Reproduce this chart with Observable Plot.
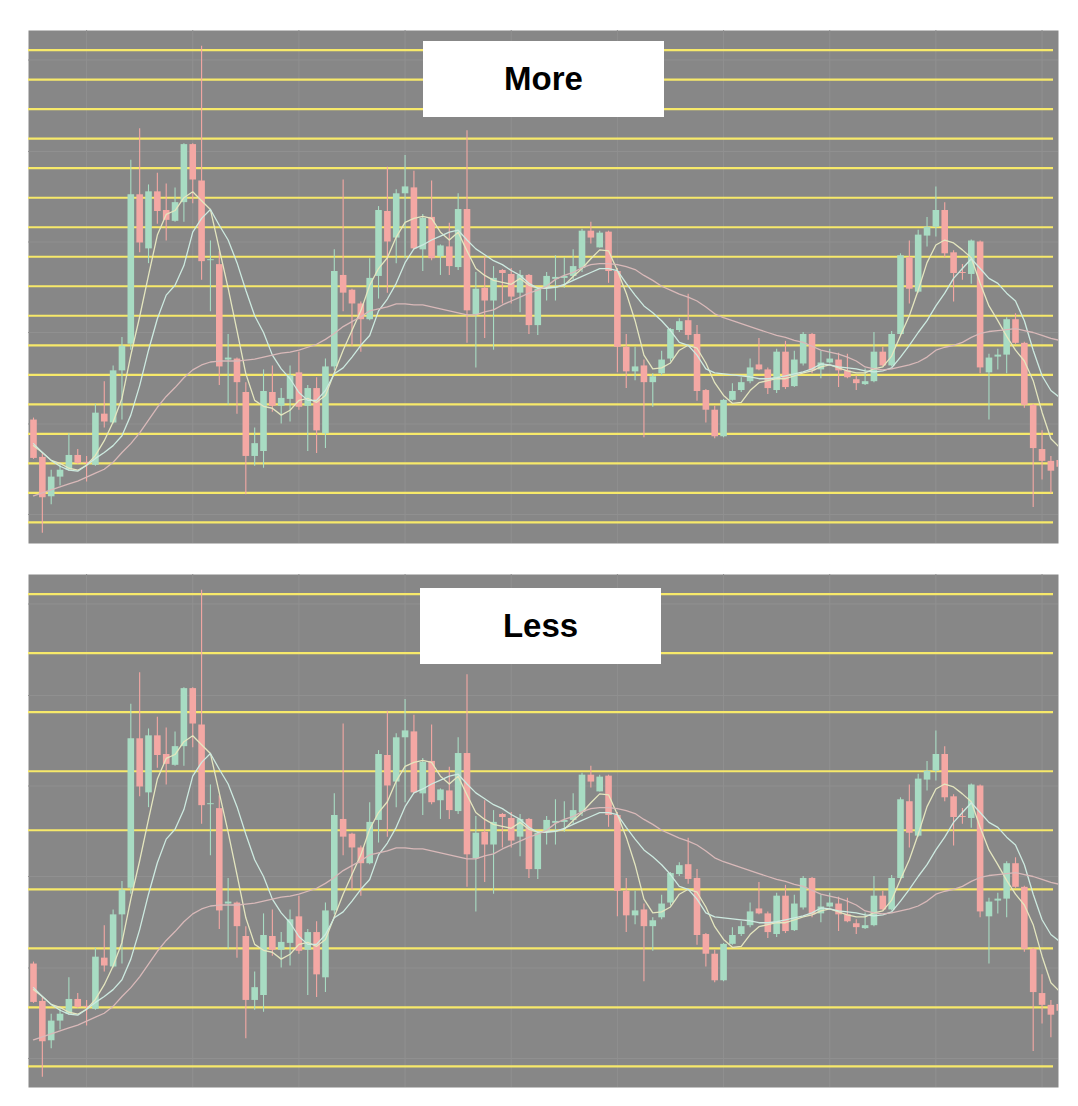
<!DOCTYPE html>
<html>
<head>
<meta charset="utf-8">
<script src="https://cdn.jsdelivr.net/npm/d3@7"></script>
<script src="https://cdn.jsdelivr.net/npm/@observablehq/plot@0.6"></script>
<style>
  body { margin: 0; background: #fff; }
  #wrap { position: relative; width: 1078px; height: 1106px; }
  .panel { position: absolute; left: 0; }
  .tag {
    position: absolute; background: #fff; display: flex; align-items: center; justify-content: center;
    font: bold 33px "Liberation Sans", Arial, Helvetica, sans-serif; color: #000;
  }
</style>
</head>
<body>
<div id="wrap"></div>
<script>
// Daily OHLC, one entry per session (session index = position in the arrays)
const open = [3104,3066,3026,3046,3053,3068,3061,3058,3110,3101,
  3154,3181,3333,3278,3336,3317,3306,3325,3384,3347,
  3266,3262,3165,3166,3132,3067,3072,3132,3118,3125,
  3152,3118,3136,3090,3158,3251,3236,3222,3206,3250,
  3316,3289,3334,3340,3277,3310,3270,3280,3259,3318,
  3211,3238,3225,3256,3252,3233,3251,3200,3238,3247,
  3248,3250,3258,3296,3279,3295,3255,3178,3153,3159,
  3142,3151,3166,3195,3205,3191,3134,3114,3087,3124,
  3134,3143,3160,3155,3134,3173,3138,3161,3191,3155,
  3162,3165,3154,3145,3140,3143,3173,3159,3191,3269,
  3234,3291,3300,3317,3274,3254,3252,3285,3152,3168,
  3170,3206,3182,3119,3074,3062,3063];
const high = [3106,3070,3053,3059,3090,3074,3067,3120,3143,3159,
  3188,3368,3400,3343,3355,3344,3340,3385,3385,3484,
  3286,3275,3191,3167,3142,3096,3155,3159,3136,3159,
  3173,3139,3147,3166,3277,3348,3237,3224,3268,3321,
  3361,3338,3373,3357,3313,3347,3282,3304,3334,3398,
  3254,3270,3260,3257,3258,3256,3252,3239,3254,3271,
  3269,3277,3298,3305,3296,3296,3258,3191,3178,3165,
  3151,3174,3197,3207,3232,3200,3135,3118,3125,3141,
  3147,3166,3187,3157,3176,3184,3174,3193,3192,3174,
  3176,3172,3171,3149,3156,3193,3178,3194,3273,3286,
  3297,3310,3341,3325,3276,3262,3287,3286,3171,3176,
  3208,3212,3183,3120,3093,3067,3068];
const low = [3064,2989,3018,3037,3052,3059,3041,3057,3096,3100,
  3104,3175,3274,3263,3303,3286,3305,3305,3324,3246,
  3214,3139,3119,3110,3028,3057,3055,3112,3100,3102,
  3114,3072,3070,3075,3154,3214,3179,3173,3205,3227,
  3233,3263,3268,3277,3255,3266,3251,3251,3256,3182,
  3157,3187,3175,3222,3222,3213,3191,3190,3225,3225,
  3238,3246,3254,3283,3279,3243,3152,3136,3144,3086,
  3117,3149,3163,3193,3185,3123,3101,3085,3086,3123,
  3132,3141,3154,3130,3131,3135,3137,3159,3151,3146,
  3161,3137,3146,3134,3139,3142,3158,3158,3190,3222,
  3233,3280,3290,3269,3224,3246,3242,3151,3104,3155,
  3151,3181,3116,3015,3043,3029,3047];
const close = [3065,3025,3046,3053,3068,3060,3060,3111,3102,3154,
  3179,3333,3284,3336,3316,3307,3325,3384,3348,3265,
  3267,3158,3167,3142,3067,3080,3133,3118,3126,3149,
  3117,3136,3093,3158,3255,3233,3222,3206,3248,3317,
  3285,3334,3341,3278,3309,3268,3281,3260,3318,3215,
  3237,3225,3248,3253,3229,3251,3200,3237,3250,3249,
  3250,3260,3296,3289,3294,3255,3178,3153,3158,3142,
  3148,3165,3196,3204,3190,3133,3114,3087,3124,3133,
  3142,3157,3155,3136,3173,3137,3165,3191,3154,3162,
  3166,3154,3147,3141,3143,3173,3159,3191,3271,3237,
  3292,3300,3317,3273,3253,3253,3286,3157,3167,3170,
  3206,3182,3119,3075,3062,3052,3056];

// Moving averages as plotted (short, medium, long)
const maShort = [3078,3071,3063,3060,3055,3053,3058,3068,3083,3102,
  3126,3170,3209,3251,3292,3313,3317,3330,3336,3327,
  3318,3278,3238,3195,3151,3124,3118,3116,3109,3114,
  3124,3126,3122,3129,3152,3175,3195,3215,3241,3258,
  3269,3290,3305,3309,3311,3309,3295,3287,3295,3276,
  3258,3251,3246,3244,3242,3248,3241,3238,3239,3239,
  3241,3250,3258,3268,3277,3276,3256,3233,3205,3170,
  3156,3157,3162,3175,3180,3177,3162,3142,3129,3121,
  3122,3134,3142,3144,3146,3146,3149,3152,3154,3158,
  3160,3157,3154,3152,3152,3156,3158,3169,3190,3210,
  3236,3264,3282,3287,3284,3277,3269,3243,3220,3205,
  3189,3175,3164,3144,3112,3085,3076];
const maMid = [3080,3071,3063,3057,3053,3052,3058,3065,3071,3078,
  3088,3109,3139,3175,3207,3231,3241,3261,3295,3309,
  3318,3302,3287,3264,3236,3210,3193,3170,3156,3146,
  3132,3124,3124,3134,3151,3157,3168,3180,3190,3215,
  3227,3243,3264,3278,3282,3287,3291,3295,3297,3287,
  3278,3272,3266,3262,3256,3251,3243,3238,3238,3239,
  3242,3246,3250,3254,3258,3258,3256,3243,3231,3220,
  3213,3205,3195,3183,3180,3170,3156,3152,3151,3150,
  3149,3148,3146,3146,3147,3149,3151,3153,3156,3161,
  3160,3158,3157,3156,3154,3153,3154,3157,3168,3180,
  3193,3205,3220,3233,3248,3258,3268,3258,3248,3243,
  3233,3225,3205,3175,3149,3134,3127];
const maLong = [3027,3030,3033,3036,3039,3042,3046,3050,3054,3061,
  3071,3080,3091,3104,3117,3128,3137,3147,3155,3160,
  3163,3164,3164,3164,3165,3166,3168,3170,3172,3173,
  3175,3178,3181,3186,3192,3199,3204,3209,3215,3217,
  3219,3222,3222,3221,3221,3219,3217,3215,3213,3211,
  3211,3214,3216,3221,3225,3229,3233,3236,3240,3247,
  3251,3254,3259,3262,3263,3263,3262,3260,3257,3251,
  3246,3240,3236,3232,3229,3225,3219,3212,3208,3205,
  3202,3199,3196,3193,3190,3188,3185,3183,3179,3175,
  3173,3171,3168,3164,3158,3156,3155,3156,3158,3160,
  3163,3168,3175,3178,3180,3183,3188,3192,3194,3195,
  3196,3197,3195,3193,3190,3187,3185];

// Price grid levels for each panel and the chart's own light grid
const gridMore = [3000,3030,3060,3090,3120,3150,3180,3210,3240,3270,3300,3330,3360,3390,3420,3450,3480];
const gridLess = [3000,3060,3120,3180,3240,3300,3360,3420,3480];
const baseGridPrice = [3008,3100,3193,3285,3377,3470];
const baseGridSession = [6,18,30,42,54,66,78,90,102,114];

const panelLabels = ["More", "Less"];

const bars = open.map((o, i) => ({
  i, open: o, high: high[i], low: low[i], close: close[i], up: close[i] >= o
}));
const lines = [
  {name: "short", values: maShort, color: "#e4e6bf"},
  {name: "mid", values: maMid, color: "#cdeae0"},
  {name: "long", values: maLong, color: "#d9b9b9"}
].flatMap(s => s.values.map((v, i) => ({i, v, name: s.name, color: s.color})));

const UP = "#a8dcc3", DOWN = "#f4a8a4", BG = "#878787", YELLOW = "#f7e96a";

function panel(grid) {
  return Plot.plot({
    width: 1078, height: 545,
    marginLeft: 28, marginRight: 20, marginTop: 30, marginBottom: 2,
    x: {domain: [-0.565, 115.86], axis: null},
    y: {domain: [2978.5, 3500], axis: null},
    marks: [
      Plot.frame({fill: BG, stroke: null}),
      Plot.ruleX(baseGridSession, {stroke: "#909090", strokeWidth: 1}),
      Plot.ruleY(baseGridPrice, {stroke: "#909090", strokeWidth: 1}),
      Plot.ruleY(grid, {stroke: YELLOW, strokeWidth: 2.2, insetRight: 5}),
      Plot.ruleX(bars, {x: "i", y1: "low", y2: "high", stroke: d => d.up ? UP : DOWN, strokeWidth: 1.1, clip: true}),
      Plot.ruleX(bars, {x: "i", y1: "open", y2: "close", stroke: d => d.up ? UP : DOWN, strokeWidth: 6.6, clip: true}),
      Plot.line(lines, {x: "i", y: "v", z: "name", stroke: "color", strokeWidth: 1.3, clip: true})
    ]
  });
}

const wrap = document.getElementById("wrap");
[gridMore, gridLess].forEach((grid, k) => {
  const svg = panel(grid);
  svg.classList.add("panel");
  svg.style.top = (k * 544) + "px";
  wrap.appendChild(svg);
  const tag = document.createElement("div");
  tag.className = "tag";
  tag.textContent = panelLabels[k];
  tag.style.left = (k === 0 ? 423 : 420) + "px";
  tag.style.top = (k === 0 ? 41 : 588) + "px";
  tag.style.width = "241px";
  tag.style.height = "76px";
  wrap.appendChild(tag);
});
</script>
</body>
</html>
